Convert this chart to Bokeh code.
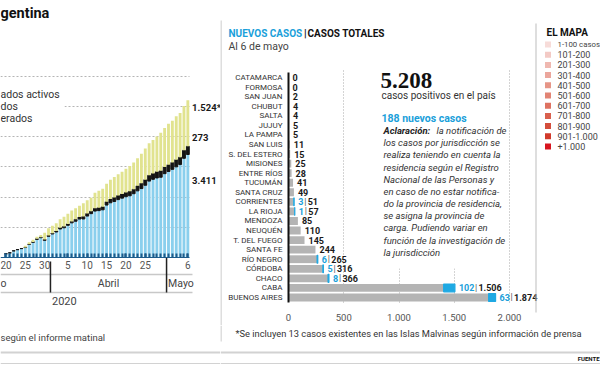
from bokeh.plotting import figure
from bokeh.models import Range1d, FixedTicker, Label, BoxAnnotation, ColumnDataSource
from bokeh.layouts import row, column
from bokeh.embed import file_html
from bokeh.resources import INLINE
from bokeh.core.properties import value

# ------------------------------------------------------------------ data
# Left chart: 20 March .. 6 May 2020 (day number counted from 1 March)
dias = list(range(20, 68))
activos = [122, 151, 218, 259, 294, 329, 431, 505, 601, 654, 569, 702,
           779, 845, 944, 984, 1065, 1148, 1200, 1274, 1276, 1372,
           1452, 1537, 1552, 1579, 1736, 1812, 1855, 1917, 1966, 2012,
           2044, 2112, 2207, 2283, 2392, 2529, 2588, 2634, 2657, 2776,
           2849, 2919, 3002, 3077, 3284, 3411]
fallecidos = [3, 4, 4, 4, 4, 6, 8, 12, 17, 19, 23, 24,
              27, 32, 42, 44, 48, 48, 63, 66, 79, 82,
              83, 90, 97, 102, 111, 122, 129, 132, 136, 144,
              147, 152, 165, 176, 185, 192, 197, 207, 214, 218,
              225, 228, 237, 246, 264, 273]
recuperados = [3, 3, 3, 3, 3, 52, 63, 72, 72, 72, 228, 240,
               248, 256, 279, 325, 338, 358, 365, 375, 440, 440,
               440, 515, 559, 596, 596, 637, 685, 709, 737, 785,
               840, 880, 916, 976, 1030, 1059, 1107, 1162, 1256, 1291,
               1354, 1385, 1442, 1460, 1472, 1524]
dia_ticks = [20, 25, 30, 36, 41, 46, 51, 56, 67]
dia_labels = ["20", "25", "30", "5", "10", "15", "20", "25", "6"]
meses = ["o", "Abril", "Mayo"]          # "Marzo" is cropped by the left edge
mes_limites = [31.5, 61.5]
grid_vals = [1000, 2000, 3000, 4000, 5000, 6000]
serie_nombres = ["ados activos", "dos", "erados"]   # cropped legend texts

# Right chart: cases by jurisdiction at 6 May
provincias = ["CATAMARCA", "FORMOSA", "SAN JUAN", "CHUBUT", "SALTA", "JUJUY",
              "LA PAMPA", "SAN LUIS", "S. DEL ESTERO", "MISIONES", "ENTRE RÍOS",
              "TUCUMÁN", "SANTA CRUZ", "CORRIENTES", "LA RIOJA", "MENDOZA",
              "NEUQUÉN", "T. DEL FUEGO", "SANTA FE", "RÍO NEGRO", "CÓRDOBA",
              "CHACO", "CABA", "BUENOS AIRES"]
totales = [0, 0, 2, 4, 4, 5, 5, 11, 15, 25, 28, 41, 49, 51, 57, 85, 110, 145,
           244, 265, 316, 366, 1506, 1874]
nuevos = [0, 0, 0, 0, 0, 0, 0, 0, 0, 0, 0, 0, 0, 3, 1, 0, 0, 0, 0, 6, 5, 8, 102, 63]
eje_vals = [0, 500, 1000, 1500, 2000]
eje_labels = ["0", "500", "1.000", "1.500", "2.000"]

mapa_labels = ["1-100 casos", "101-200", "201-300", "301-400", "401-500", "501-600",
               "601-700", "701-800", "801-900", "901-1.000", "+1.000"]
mapa_colores = ["#f7dcd9", "#f3cac5", "#efb8b0", "#eba69c", "#e69587", "#e28474",
                "#de7261", "#d9604e", "#d44e3c", "#d13a2b", "#d7151f"]

parrafo = ["la notificación de", "los casos por jurisdicción se",
           "realiza teniendo en cuenta la", "residencia según el Registro",
           "Nacional de las Personas y", "en caso de no estar notifica-",
           "do la provincia de residencia,", "se asigna la provincia de",
           "carga. Pudiendo variar en", "función de la investigación de",
           "la jurisdicción"]

# ------------------------------------------------------------------ helpers
SANS = "Roboto"
SERIF = "Liberation Serif"
BLUE_TXT = "#1aa0da"


def fmt(v):
    return f"{v:,}".replace(",", ".")


def lbl(p, x, y, text, size="10px", color="#333333", style="normal",
        align="left", font=SANS, baseline="middle"):
    p.add_layout(Label(x=x, y=y, text=text, text_font=font, text_font_size=size,
                       text_color=color, text_font_style=style, text_align=align,
                       text_baseline=baseline))


def base_fig(w, h, xr, yr):
    f = figure(width=w, height=h, x_range=xr, y_range=yr, output_backend="svg",
               toolbar_location=None, min_border=0, outline_line_color=None)
    f.background_fill_color = "white"
    f.border_fill_color = "white"
    return f


def bare(f):
    f.xaxis.visible = False
    f.yaxis.visible = False
    f.xgrid.visible = False
    f.ygrid.visible = False


# ------------------------------------------------------------------ left chart
PX_DAY = 3.87
PX_CASE = 0.0302


def lx(r):
    return 41.33 + (r - 88) / PX_DAY


def ly(r):
    return (257 - r) / PX_CASE


left = base_fig(220, 365, Range1d(lx(0), lx(220)), Range1d(ly(365), ly(0)))
left.yaxis.visible = False
left.xgrid.visible = False
left.ygrid.ticker = FixedTicker(ticks=grid_vals)
left.ygrid.grid_line_color = "#b5b5b5"
left.ygrid.grid_line_dash = "2 2"
left.ygrid.grid_line_width = 1
left.ygrid.cross_bounds = (lx(0), dias[-1] + 0.5)

src = ColumnDataSource(dict(dia=dias, activos=activos, fallecidos=fallecidos,
                            recuperados=recuperados))
left.vbar_stack(["activos", "fallecidos", "recuperados"], x="dia", width=0.74, source=src,
                fill_color=["#8acfed", "#141414", "#e1e38f"],
                line_color=["#8acfed", "#141414", "#e1e38f"],
                line_alpha=[0, 1, 0], line_width=1)

ax = left.xaxis[0]
ax.fixed_location = 0
ax.ticker = FixedTicker(ticks=dia_ticks, minor_ticks=dias)
ax.major_label_overrides = {t: s for t, s in zip(dia_ticks, dia_labels)}
ax.bounds = (lx(0), dias[-1] + 0.5)
ax.axis_line_color = "#1d5b8a"
ax.axis_line_width = 1
for k in ("major", "minor"):
    setattr(ax, f"{k}_tick_in", 4)
    setattr(ax, f"{k}_tick_out", 0)
    setattr(ax, f"{k}_tick_line_color", "#1d5b8a")
    setattr(ax, f"{k}_tick_line_width", 2)
ax.major_label_text_font = SANS
ax.major_label_text_font_size = "10px"
ax.major_label_text_color = "#555555"
ax.major_label_standoff = 3

# legend area (white patch interrupting the 5000 gridline)
left.add_layout(BoxAnnotation(left=lx(0), right=lx(64), top=ly(100), bottom=ly(112),
                              fill_color="white", fill_alpha=1, line_color=None))
lbl(left, lx(0), ly(12.5), "gentina", size="14.5px", color="#111111", style="bold",
    baseline="alphabetic")
for name, yr in zip(serie_nombres, [94, 106, 118]):
    lbl(left, lx(0), ly(yr), name, size="10.5px", color="#333333")

# end-of-series values
for txt, yr in zip([fmt(recuperados[-1]) + "*", fmt(fallecidos[-1]), fmt(activos[-1])],
                   [107, 137, 180]):
    lbl(left, dias[-1] + 1.1, ly(yr), txt, size="9.5px", color="#1a1a1a", style="bold")

# month band
left.segment(x0=[lx(0), lx(0)], x1=[dias[-1] + 1.2] * 2, y0=[ly(274), ly(292)],
             y1=[ly(274), ly(292)], line_color="#c8c8c8", line_width=1.5)
left.segment(x0=mes_limites, x1=mes_limites, y0=[ly(261), ly(257)], y1=[ly(292), ly(292)],
             line_color="#222222", line_width=1.5)
lbl(left, lx(0), ly(283), meses[0], size="10.5px", color="#444444")
lbl(left, (mes_limites[0] + mes_limites[1]) / 2, ly(283), meses[1], size="10.5px",
    color="#444444", align="center")
lbl(left, mes_limites[1] + 0.4, ly(283), meses[2], size="10.5px", color="#444444")
lbl(left, mes_limites[0] + 0.4, ly(300), "2020", size="11px", color="#444444")
lbl(left, lx(0), ly(337), "según el informe matinal", size="9.5px", color="#444444")
left.segment(x0=[lx(0)], x1=[lx(220)], y0=[ly(352)], y1=[ly(352)],
             line_color="#d2d2d2", line_width=2)
left.segment(x0=[lx(0)], x1=[lx(220)], y0=[ly(363)], y1=[ly(363)],
             line_color="#d2d2d2", line_width=1)

# ------------------------------------------------------------------ middle chart
PX_U = 0.1105
ROW = 9.565


def mx(r):
    return (r - 288) / PX_U


def my(r):
    return (r - 77) / ROW


n = len(provincias)
idx = list(range(n))
mid = base_fig(320, 325, Range1d(mx(220), mx(540)), Range1d(my(325), my(0)))
mid.ygrid.visible = False
mid.xgrid.ticker = FixedTicker(ticks=eje_vals[1:])
mid.xgrid.grid_line_color = "#a8a8a8"
mid.xgrid.grid_line_dash = "1 2"
mid.xgrid.cross_bounds = (-0.7, n - 1 + 0.6)

base = [t - nv for t, nv in zip(totales, nuevos)]
mid.hbar(y=idx, left=0, right=base, height=0.82, fill_color="#b4b4b4", line_color=None)
sel = [i for i in idx if nuevos[i] > 0]
mid.hbar(y=sel, left=[base[i] for i in sel], right=[totales[i] for i in sel], height=0.82,
         fill_color="#1fa9e3", line_color="#1fa9e3", line_width=1.2)

DIG = 5.0
lab_x, lab_off, lab_txt = [], [], []
new_x, new_off, new_txt, sep_x, sep_off = [], [], [], [], []
for i in idx:
    if nuevos[i] > 0:
        w = len(str(nuevos[i])) * DIG
        new_x.append(totales[i]); new_off.append(4); new_txt.append(str(nuevos[i]))
        sep_x.append(totales[i]); sep_off.append(4 + w + 1.0)
        lab_off.append(4 + w + 4.5)
    else:
        lab_off.append(4)
    lab_x.append(totales[i])
    lab_txt.append(fmt(totales[i]))
TXT = dict(text_font=value(SANS), text_font_size="9px", text_baseline="middle")
mid.text(x=lab_x, y=idx, text=lab_txt, x_offset=lab_off, text_font_style="bold",
         text_color="#1a1a1a", **TXT)
mid.text(x=new_x, y=sel, text=new_txt, x_offset=new_off, text_font_style="bold",
         text_color=BLUE_TXT, **TXT)
mid.text(x=sep_x, y=sel, text=["|"] * len(sel), x_offset=sep_off, text_color="#555555",
         **TXT)

ya = mid.yaxis[0]
ya.fixed_location = 0
ya.ticker = FixedTicker(ticks=idx)
ya.major_label_overrides = {i: p for i, p in zip(idx, provincias)}
ya.bounds = (-0.55, n - 1 + 0.55)
ya.axis_line_color = "#111111"
ya.axis_line_width = 2
ya.major_tick_line_color = None
ya.minor_tick_line_color = None
ya.major_tick_out = 0
ya.major_tick_in = 0
ya.major_label_standoff = 6
ya.major_label_text_font = SANS
ya.major_label_text_font_size = "8px"
ya.major_label_text_color = "#333333"

xa = mid.xaxis[0]
xa.fixed_location = my(306)
xa.ticker = FixedTicker(ticks=eje_vals)
xa.major_label_overrides = {v: s for v, s in zip(eje_vals, eje_labels)}
xa.axis_line_color = None
xa.major_tick_line_color = None
xa.minor_tick_line_color = None
xa.major_tick_out = 0
xa.major_tick_in = 0
xa.major_label_standoff = 7
xa.major_label_text_font = SANS
xa.major_label_text_font_size = "9.5px"
xa.major_label_text_color = "#555555"

# text box (white background hides gridlines behind it)
mid.add_layout(BoxAnnotation(left=mx(376), right=mx(503), top=my(60), bottom=my(268),
                             fill_color="white", fill_alpha=1, line_color=None))
lbl(mid, mx(228), my(33), "NUEVOS CASOS", size="10px", color=BLUE_TXT, style="bold")
lbl(mid, mx(303.5), my(33), "|", size="10.5px", color="#111111", style="bold")
lbl(mid, mx(307), my(33), "CASOS TOTALES", size="10px", color="#111111", style="bold")
lbl(mid, mx(228), my(46), "Al 6 de mayo", size="10.5px", color="#444444")
lbl(mid, mx(380), my(80), fmt(sum(totales)), size="23px", color="#111111",
    style="bold", font=SERIF)
lbl(mid, mx(381), my(95), "casos positivos en el país", size="10px", color="#333333")
mid.segment(x0=[mx(381)], x1=[mx(497)], y0=[my(103)], y1=[my(103)],
            line_color="#111111", line_width=1.5)
lbl(mid, mx(381), my(118), f"{fmt(sum(nuevos))} nuevos casos", size="10.5px",
    color=BLUE_TXT, style="bold")
for k, line in enumerate(parrafo):
    yy = my(130 + 12.17 * k)
    if k == 0:
        lbl(mid, mx(383), yy, "Aclaración:", size="9.5px", color="#222222",
            style="bold italic")
        lbl(mid, mx(436), yy, line, size="9.5px", color="#333333", style="italic")
    else:
        lbl(mid, mx(383), yy, line, size="9.5px", color="#333333", style="italic")
mid.segment(x0=[mx(220.5)], x1=[mx(220.5)], y0=[my(20)], y1=[my(325)],
            line_color="#bdbdbd", line_width=1)
mid.segment(x0=[mx(535.5)], x1=[mx(535.5)], y0=[my(23)], y1=[my(312)],
            line_color="#bdbdbd", line_width=1)

# ------------------------------------------------------------------ map legend


def gy(r):
    return (r - 44) / 10.2


leg = base_fig(60, 325, Range1d(540, 600), Range1d(gy(325), gy(0)))
bare(leg)
lbl(leg, 546, gy(32), "EL MAPA", size="10px", color="#111111", style="bold")
mi = list(range(len(mapa_labels)))
leg.scatter(x=[547.5] * len(mi), y=mi, marker="square", size=6, fill_color=mapa_colores,
            line_color=None)
leg_sizes = ["7.8px"] + ["9px"] * (len(mi) - 1)   # first (longest) label shrunk to fit
leg.text(x=[557] * len(mi), y=mi, text=mapa_labels, text_font=value(SANS),
         text_font_size=leg_sizes, text_color="#444444", text_baseline="middle")

# ------------------------------------------------------------------ bottom strip
bot = base_fig(380, 40, Range1d(220, 600), Range1d(365, 325))
bare(bot)
bot.segment(x0=[220.5], x1=[220.5], y0=[325], y1=[341], line_color="#bdbdbd", line_width=1)
lbl(bot, 235, 333, "*Se incluyen 13 casos existentes en las Islas Malvinas según "
    "información de prensa", size="9.3px", color="#333333")
bot.segment(x0=[220], x1=[600], y0=[352], y1=[352], line_color="#d2d2d2", line_width=2)
bot.segment(x0=[220], x1=[600], y0=[363], y1=[363], line_color="#d2d2d2", line_width=1)
lbl(bot, 599, 358, "FUENTE", size="6px", color="#111111", style="bold", align="right")

layout = row(left, column(row(mid, leg), bot))
open("out.html", "w").write(file_html(layout, INLINE))
